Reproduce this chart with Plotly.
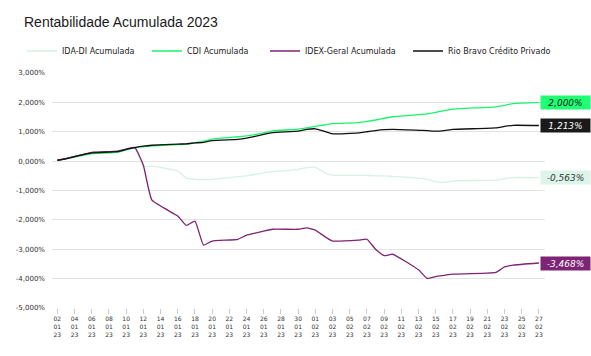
import plotly.graph_objects as go

dates = ["2023-01-02","2023-01-03","2023-01-04","2023-01-05","2023-01-06",
         "2023-01-09","2023-01-10","2023-01-11","2023-01-12","2023-01-13",
         "2023-01-16","2023-01-17","2023-01-18","2023-01-19","2023-01-20",
         "2023-01-23","2023-01-24","2023-01-25","2023-01-26","2023-01-27",
         "2023-01-30","2023-01-31","2023-02-01","2023-02-02","2023-02-03",
         "2023-02-06","2023-02-07","2023-02-08","2023-02-09","2023-02-10",
         "2023-02-13","2023-02-14","2023-02-15","2023-02-16","2023-02-17",
         "2023-02-22","2023-02-23","2023-02-24","2023-02-27"]

ida_di = [0.03,0.08,0.14,0.20,0.26,0.30,0.38,0.45,-0.19,-0.17,
          -0.34,-0.58,-0.62,-0.63,-0.62,-0.53,-0.50,-0.45,-0.40,-0.36,
          -0.28,-0.22,-0.21,-0.38,-0.48,-0.48,-0.49,-0.50,-0.50,-0.52,
          -0.58,-0.62,-0.70,-0.72,-0.67,-0.65,-0.60,-0.56,-0.563]
cdi = [0.03,0.08,0.14,0.20,0.26,0.30,0.38,0.46,0.49,0.52,
       0.56,0.58,0.62,0.68,0.75,0.83,0.86,0.90,0.96,1.03,
       1.09,1.13,1.18,1.23,1.28,1.31,1.35,1.40,1.46,1.51,
       1.58,1.61,1.66,1.72,1.77,1.85,1.90,1.96,2.000]
idex = [0.03,0.09,0.16,0.23,0.30,0.34,0.41,0.47,-0.14,-1.33,
        -1.87,-2.19,-2.04,-2.86,-2.72,-2.66,-2.52,-2.45,-2.38,-2.32,
        -2.32,-2.27,-2.35,-2.55,-2.72,-2.69,-2.66,-3.00,-3.22,-3.17,
        -3.70,-3.99,-3.93,-3.89,-3.85,-3.79,-3.60,-3.54,-3.468]
rio = [0.03,0.08,0.15,0.22,0.28,0.32,0.40,0.46,0.51,0.54,
       0.58,0.59,0.62,0.64,0.70,0.74,0.78,0.84,0.91,0.97,
       1.02,1.08,1.10,1.02,0.93,0.96,1.00,1.04,1.07,1.08,
       1.05,1.04,1.02,1.04,1.08,1.13,1.18,1.22,1.213]

names = ["IDA-DI Acumulada", "CDI Acumulada", "IDEX-Geral Acumulada", "Rio Bravo Crédito Privado"]
series = [ida_di, cdi, idex, rio]
colors = ["#d6f2e3", "#19f56a", "#7d2474", "#111111"]
box_colors = ["#dcf5e8", "#1eff74", "#7d2474", "#1a1a1a"]
text_colors = ["#333333", "#1a1a1a", "#ffffff", "#ffffff"]
y_ticks = [3, 2, 1, 0, -1, -2, -3, -4, -5]


def fmt_pct(v):
    return f"{v:.3f}".replace(".", ",") + "%"


W, H = 591, 356
legend_x_px = [22, 147, 265, 408]
legend_keys = ["legend", "legend2", "legend3", "legend4"]

fig = go.Figure()
for name, vals, col, lk in zip(names, series, colors, legend_keys):
    fig.add_trace(go.Scatter(x=dates, y=vals, name=name, mode="lines", legend=lk,
                             line=dict(color=col, width=1.3, shape="spline", smoothing=0.4)))

for vals, bc, tc in zip(series, box_colors, text_colors):
    fig.add_annotation(x=dates[-1], y=vals[-1], xref="x", yref="y",
                       text="<i>" + fmt_pct(vals[-1]) + "</i>",
                       showarrow=False, xanchor="left", yanchor="middle", xshift=1,
                       bgcolor=bc, font=dict(color=tc, size=9, family="DejaVu Sans"),
                       width=47, height=11, borderpad=1)

L, R, T, B = 52, 46, 73, 48
pw = W - L - R
legend_cfg = {}
for lk, px in zip(legend_keys, legend_x_px):
    legend_cfg[lk] = dict(orientation="h", x=(px - L) / pw, y=1 + (73 - 51) / (H - T - B),
                          xanchor="left", yanchor="middle", bgcolor="rgba(0,0,0,0)",
                          font=dict(size=8, color="#222222", family="DejaVu Sans"),
                          itemwidth=30)

fig.update_layout(
    width=W, height=H,
    margin=dict(l=L, r=R, t=T, b=B, autoexpand=False),
    paper_bgcolor="white", plot_bgcolor="white",
    title=dict(text="Rentabilidade Acumulada 2023", x=24 / W, xanchor="left", y=1 - 22 / H, yanchor="middle",
               font=dict(size=14, color="#1a1a1a", family="Liberation Sans")),
    separators=",.",
    showlegend=True,
    **legend_cfg,
)
fig.update_yaxes(range=[-5, 3], tickvals=y_ticks, ticktext=[fmt_pct(v) for v in y_ticks],
                 showgrid=True, gridcolor="#e3e3e3", zeroline=False, showline=False,
                 automargin=False, ticklabelstandoff=6,
                 tickfont=dict(size=7, color="#333333", family="DejaVu Sans"), ticks="")
fig.update_xaxes(type="date", range=["2023-01-01 09:00", "2023-02-27 17:00"],
                 tick0="2023-01-02", dtick=2*86400000, tickformat="%d<br>%m<br>%y",
                 showgrid=False, ticks="outside", ticklen=5, tickcolor="#cccccc",
                 showline=False, zeroline=False, automargin=False,
                 tickfont=dict(size=6, color="#333333", family="DejaVu Sans"))

fig.write_html("out.html", config={"displayModeBar": False},
               post_script="document.body.style.margin='0';")
